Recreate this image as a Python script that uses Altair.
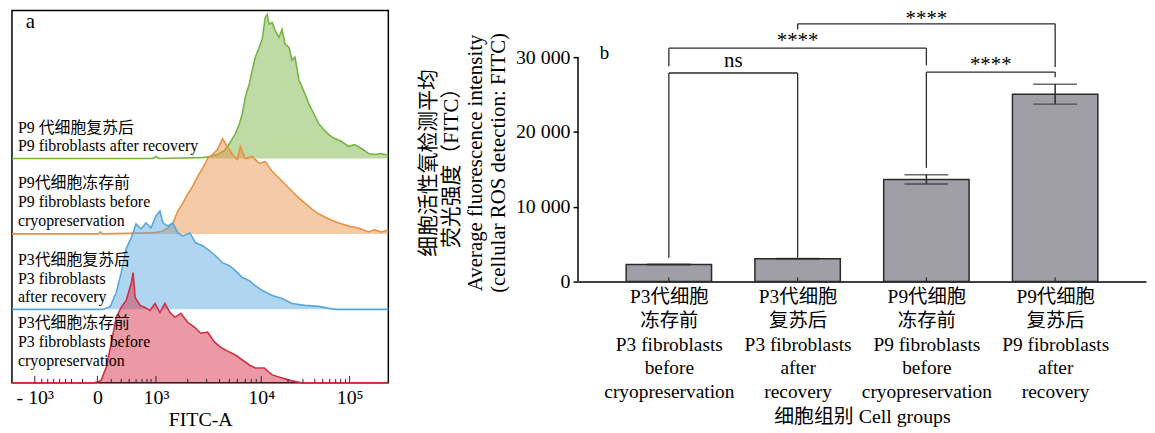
import json
import altair as alt
import pandas as pd

FONT = "Liberation Serif, Noto Sans CJK SC, serif"
INK = "#2a2a2a"

# ---------------- panel a: FITC-A histograms (display channels of the logicle axis) ----------------
HIST_NAMES = ["P9_after", "P9_before", "P3_after", "P3_before"]
HIST_COLORS = ["#78b443", "#ea9046", "#58a8df", "#d62c43"]
LANE_OFFSET = [226, 150, 74, 0]

P9_AFTER_X = [8, 150, 153, 156, 200, 207, 215, 222, 227, 233, 237, 240, 243, 247, 250, 253, 257, 260,
              263, 265, 267, 270, 273, 277, 280, 283, 287, 290, 293, 297, 300, 303, 307, 312, 317, 322,
              327, 333, 340, 347, 353, 360, 367, 373, 380, 383, 387]
P9_AFTER_H = [0, 0, 2, 0, 1, 2, 4, 8, 15, 25, 35, 45, 62, 75, 89, 102, 112, 120,
              142, 145, 135, 137, 129, 122, 130, 115, 112, 99, 102, 79, 72, 65, 55, 45, 35, 29,
              24, 20, 17, 12, 14, 10, 5, 4, 5, 4, 4]

P9_BEFORE_X = [8, 95, 97, 99, 150, 160, 165, 170, 175, 180, 185, 190, 195, 200, 205, 210, 215, 220,
               225, 230, 235, 238, 243, 250, 257, 263, 270, 277, 283, 290, 297, 303, 310, 317, 327,
               337, 347, 357, 367, 373, 380, 387]
P9_BEFORE_H = [0, 0, 2, 0, 1, 3, 6, 11, 23, 31, 40, 48, 58, 66, 76, 80, 85, 96,
               88, 80, 75, 88, 76, 78, 71, 73, 63, 56, 50, 43, 36, 31, 25, 20, 15,
               11, 8, 6, 2, 4, 2, 4]

P3_AFTER_X = [8, 100, 107, 113, 118, 123, 128, 133, 138, 143, 148, 153, 157, 160, 165, 170, 175, 180,
              187, 193, 200, 207, 213, 220, 227, 233, 240, 247, 253, 260, 270, 280, 290, 303, 317,
              327, 335, 387]
P3_AFTER_H = [0, 0, 3, 17, 37, 61, 72, 86, 81, 87, 82, 94, 99, 87, 84, 87, 77, 74,
              77, 67, 64, 59, 54, 47, 44, 39, 32, 29, 24, 19, 14, 11, 6, 4, 3,
              1, 0, 0]

P3_BEFORE_X = [8, 90, 95, 98, 103, 108, 113, 118, 123, 128, 130, 132, 137, 142, 147, 152, 157, 162,
               167, 172, 178, 185, 192, 198, 205, 212, 218, 227, 233, 240, 247, 253, 262, 270, 280,
               290, 300, 387]
P3_BEFORE_H = [0, 0, 1, 3, 16, 40, 66, 76, 83, 100, 111, 86, 78, 76, 73, 80, 71, 80,
               71, 66, 70, 61, 56, 50, 51, 41, 36, 31, 28, 23, 18, 15, 15, 8, 5,
               2, 0, 0]

HIST_X = [P9_AFTER_X, P9_BEFORE_X, P3_AFTER_X, P3_BEFORE_X]
HIST_H = [P9_AFTER_H, P9_BEFORE_H, P3_AFTER_H, P3_BEFORE_H]

HIST_LABELS = [
    ["P9 代细胞复苏后", "P9 fibroblasts after recovery"],
    ["P9代细胞冻存前", "P9 fibroblasts before", "cryopreservation"],
    ["P3代细胞复苏后", "P3 fibroblasts", "after recovery"],
    ["P3代细胞冻存前", "P3 fibroblasts before", "cryopreservation"],
]
LABEL_TOP = [265, 209, 132, 68]
LABEL_X = 14

AXIS_A_TICKS = [31, 94, 153, 259, 348]
AXIS_A_LABELS = ["- 10³", "0", "10³", "10⁴", "10⁵"]
MINOR_TICKS = [38, 44, 50, 56, 62, 68, 79, 108, 118, 126, 133, 139, 144, 148,
               185, 204, 217, 227, 235, 243, 249, 254, 286, 301, 313, 321, 328, 334, 339, 344]

# ---------------- panel b: mean fluorescence bars ----------------
BAR_POS = [1, 2, 3, 4]
CATEGORY_LABELS = [
    "P3代细胞|冻存前|P3 fibroblasts|before|cryopreservation",
    "P3代细胞|复苏后|P3 fibroblasts|after|recovery",
    "P9代细胞|冻存前|P9 fibroblasts|before|cryopreservation",
    "P9代细胞|复苏后|P9 fibroblasts|after|recovery",
]
BAR_MEAN = [2280, 3050, 13650, 25050]
BAR_ERR = [40, 50, 620, 1330]

BR_LEFT = [1, 1, 3, 2]
BR_RIGHT = [2, 3, 4, 4]
BR_TOP = [27880, 31200, 28000, 34450]
BR_LEFT_FOOT = [3200, 28800, 15200, 33700]
BR_RIGHT_FOOT = [3200, 28900, 27300, 28700]
BR_TEXT = ["ns", "****", "****", "****"]
BR_TEXT_Y = [28670, 31300, 28150, 34350]

Y_TICKS = [0, 10000, 20000, 30000]

# ================= build panel a =================
rows = []
for name, xs, hs, off in zip(HIST_NAMES, HIST_X, HIST_H, LANE_OFFSET):
    for x, h in zip(xs, hs):
        rows.append({"series": name, "ch": x, "top": off + h, "base": off})
hist = pd.DataFrame(rows)

xa_scale = alt.Scale(domain=[8, 387], nice=False, zero=False)
ya_scale = alt.Scale(domain=[0, 375], nice=False, zero=False)
label_expr_a = (f"{json.dumps(AXIS_A_LABELS, ensure_ascii=False)}"
                f"[indexof({json.dumps(AXIS_A_TICKS)}, datum.value)]")
xa_axis = alt.Axis(values=AXIS_A_TICKS, labelExpr=label_expr_a, ticks=False, domain=False,
                   grid=False, labelFontSize=20, labelPadding=5, labelFlush=False,
                   labelOverlap=False, title="FITC-A", titleFontSize=20, titlePadding=2)
xa = alt.X("ch:Q", scale=xa_scale, axis=xa_axis)

layers_a = []
for name, color in zip(HIST_NAMES, HIST_COLORS):
    sub = hist[hist["series"] == name]
    layers_a.append(alt.Chart(sub).mark_area(color=color, fillOpacity=0.48).encode(
        x=xa, y=alt.Y("top:Q", scale=ya_scale, axis=None), y2="base:Q"))
    layers_a.append(alt.Chart(sub).mark_line(color=color, strokeWidth=1.6).encode(
        x=xa, y=alt.Y("top:Q", scale=ya_scale, axis=None)))

ticks_df = pd.DataFrame({"ch": AXIS_A_TICKS + MINOR_TICKS,
                         "top": [7] * len(AXIS_A_TICKS) + [4] * len(MINOR_TICKS),
                         "base": 0})
layers_a.append(alt.Chart(ticks_df).mark_rule(color=INK, strokeWidth=1).encode(
    x=xa, y=alt.Y("base:Q", scale=ya_scale, axis=None), y2="top:Q"))

lab_df = pd.DataFrame({"ch": [LABEL_X] * 4, "top": LABEL_TOP, "lines": HIST_LABELS})
layers_a.append(alt.Chart(lab_df).mark_text(align="left", baseline="top", fontSize=16,
                                             lineHeight=19, color="black").encode(
    x=xa, y=alt.Y("top:Q", scale=ya_scale, axis=None), text=alt.Text("lines:N")))

layers_a.append(alt.Chart(pd.DataFrame({"t": ["a"]})).mark_text(
    align="left", baseline="alphabetic", fontSize=21, color="black").encode(
    x=alt.value(14), y=alt.value(18), text="t:N"))

panel_a = alt.layer(*layers_a).properties(
    width=379, height=375, view=alt.ViewBackground(stroke="black", strokeWidth=1.5))

# ================= build panel b =================
bars = pd.DataFrame({"pos": BAR_POS, "mean": BAR_MEAN, "err": BAR_ERR})
bars["lo"] = bars["mean"] - bars["err"]
bars["hi"] = bars["mean"] + bars["err"]

xb_scale = alt.Scale(domain=[0.333, 4.667], nice=False, zero=False)
yb_scale = alt.Scale(domain=[0, 36240], nice=False, zero=False)
label_expr_b = f"split({json.dumps(CATEGORY_LABELS, ensure_ascii=False)}[datum.value - 1], '|')"
xb_axis = alt.Axis(values=BAR_POS, labelExpr=label_expr_b, ticks=False, domain=True,
                   domainColor="black", domainWidth=1.5, grid=False, labelFontSize=19.5,
                   labelLineHeight=24, labelPadding=6, labelFlush=False, labelOverlap=False,
                   labelBaseline="top", title="细胞组别 Cell groups", titleFontSize=20, titlePadding=5)
yb_axis = alt.Axis(values=Y_TICKS, labelExpr="replace(format(datum.value, ','), ',', ' ')",
                   domain=False, grid=False, tickSize=5, tickColor="black", tickWidth=1.5,
                   labelFontSize=20, labelPadding=3, labelFlush=False, labelOverlap=False,
                   title=["细胞活性氧检测平均", "荧光强度（FITC）",
                          "Average fluorescence intensity", "(cellular ROS detection: FITC)"],
                   titleFontSize=21, titleLineHeight=23.5, titlePadding=7, titleY=153)
xb = alt.X("pos:Q", scale=xb_scale, axis=xb_axis)

layers_b = []
layers_b.append(alt.Chart(bars).mark_bar(size=86, color="#a09fa8", stroke=INK, strokeWidth=1.5).encode(
    x=xb, y=alt.Y("mean:Q", scale=yb_scale, axis=yb_axis)))
layers_b.append(alt.Chart(bars).mark_rule(color=INK, strokeWidth=1.5).encode(
    x=xb, y=alt.Y("lo:Q", scale=yb_scale), y2="hi:Q"))
layers_b.append(alt.Chart(bars).mark_tick(orient="horizontal", size=44, thickness=1.5, color=INK).encode(
    x=xb, y=alt.Y("hi:Q", scale=yb_scale)))
layers_b.append(alt.Chart(bars).mark_tick(orient="horizontal", size=44, thickness=1.5, color=INK).encode(
    x=xb, y=alt.Y("lo:Q", scale=yb_scale)))

seg = []
for l, r, t, lf, rf in zip(BR_LEFT, BR_RIGHT, BR_TOP, BR_LEFT_FOOT, BR_RIGHT_FOOT):
    seg.append({"pos": l, "x2": l, "y": lf, "y2": t})
    seg.append({"pos": l, "x2": r, "y": t, "y2": t})
    seg.append({"pos": r, "x2": r, "y": rf, "y2": t})
seg = pd.DataFrame(seg)
layers_b.append(alt.Chart(seg).mark_rule(color=INK, strokeWidth=1.3).encode(
    x=xb, x2="x2:Q", y=alt.Y("y:Q", scale=yb_scale), y2="y2:Q"))

txt = pd.DataFrame({"pos": [(l + r) / 2 for l, r in zip(BR_LEFT, BR_RIGHT)],
                    "y": BR_TEXT_Y, "t": BR_TEXT})
layers_b.append(alt.Chart(txt).mark_text(baseline="alphabetic", fontSize=21, color="black",
                                         clip=True).encode(
    x=xb, y=alt.Y("y:Q", scale=yb_scale), text="t:N"))

inner = pd.DataFrame({"pos": BAR_POS, "y": 0, "y2": 550})
layers_b.append(alt.Chart(inner).mark_rule(color=INK, strokeWidth=1.2).encode(
    x=xb, y=alt.Y("y:Q", scale=yb_scale), y2="y2:Q"))

ydom = pd.DataFrame({"y": [0], "y2": [Y_TICKS[-1]]})
layers_b.append(alt.Chart(ydom).mark_rule(color="black", strokeWidth=1.5).encode(
    x=alt.value(0), y=alt.Y("y:Q", scale=yb_scale), y2="y2:Q"))

layers_b.append(alt.Chart(pd.DataFrame({"t": ["b"]})).mark_text(
    align="left", baseline="alphabetic", fontSize=19, color="black").encode(
    x=alt.value(22), y=alt.value(49), text="t:N"))

panel_b = alt.layer(*layers_b).properties(width=572, height=273)

chart = alt.hconcat(panel_a, panel_b, spacing=191, bounds="flush").properties(
    padding={"left": 0, "top": 0, "right": 0, "bottom": 0}
).configure_view(stroke="transparent").configure_axis(
    labelFont=FONT, titleFont=FONT, labelColor="black", titleColor="black",
    titleFontWeight="normal"
).configure_text(font=FONT)

chart.save("out.html", embed_options={"renderer": "svg", "actions": False})
